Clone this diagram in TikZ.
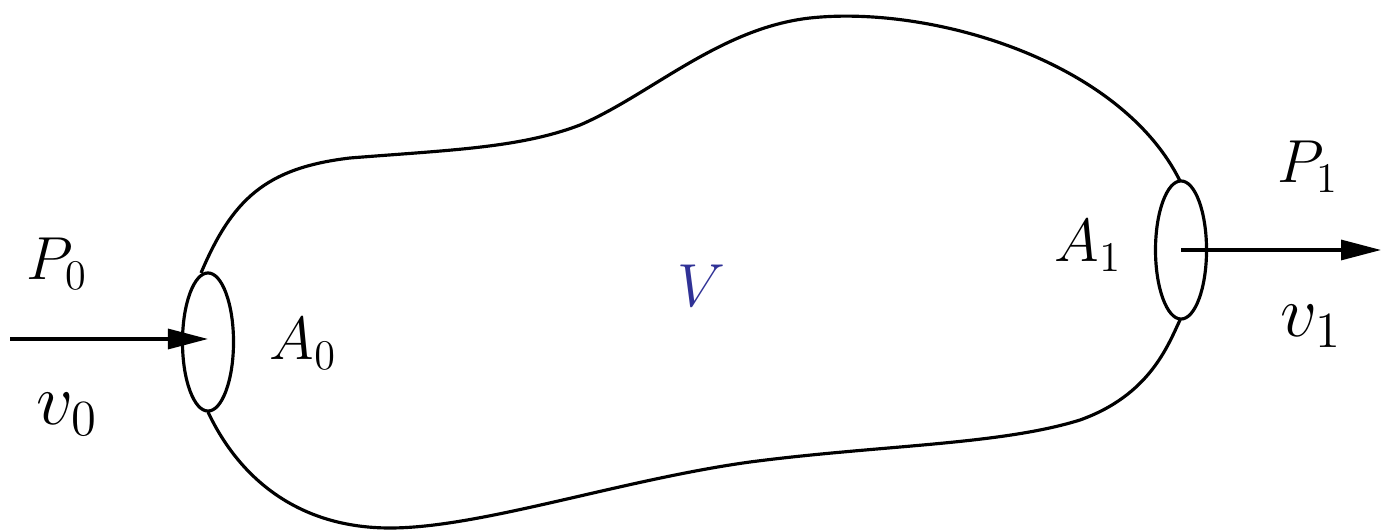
\documentclass[tikz,border=0pt]{standalone}
\usetikzlibrary{arrows.meta,shapes.geometric}
\newcommand\mainsz{\fontsize{17.5}{20}\selectfont}
\newcommand\vsz{\fontsize{21.5}{24}\selectfont}
\newcommand\lbl[2]{{\mainsz$#1_{#2}$}}
\newcommand\vlbl[1]{{\vsz$v_{#1}$}}
\definecolor{vblue}{RGB}{48,50,150}
\begin{document}
\begin{tikzpicture}[x=0.01cm,y=-0.01cm,
  outline/.style={line width=0.9pt},
  port/.style={draw,ellipse,line width=0.9pt,minimum width=0.51cm,minimum height=1.38cm,inner sep=0pt},
  flow/.style={line width=0.9pt,-{Triangle[length=4mm,width=2mm]}},
  txt/.style={anchor=base west,inner sep=0pt}]
\useasboundingbox (0,0) rectangle (1389,531);
% outline
\draw[outline] (201,273) .. controls (232,200) and (265,168) .. (350,158)
  .. controls (450,150) and (520,148) .. (580,125)
  .. controls (650,95) and (720,28) .. (810,18)
  .. controls (930,5) and (1120,60) .. (1180,181);
\draw[outline] (208,412) .. controls (240,480) and (300,528) .. (390,528)
  .. controls (480,528) and (620,480) .. (750,462)
  .. controls (880,445) and (1000,445) .. (1080,420)
  .. controls (1150,395) and (1168,345) .. (1180,320);
% ports
\node[port] (A0e) at (208,342) {};
\node[port] (A1e) at (1181,250) {};
% arrows
\coordinate (inStart) at (10,339);
\coordinate (outEnd) at (1381,250);
\draw[flow] (inStart) -- (A0e.center |- inStart);
\draw[flow] (A1e.center) -- (outEnd);
% labels
\node[txt] (P0) at (26,280) {\lbl{P}{0}};
\node[txt] (v0) at (36,425) {\vlbl{0}};
\node[txt] (A0) at (269,360) {\lbl{A}{0}};
\node[txt] (A1) at (1054,262) {\lbl{A}{1}};
\node[txt] (P1) at (1277,183) {\lbl{P}{1}};
\node[txt] (v1) at (1280,337) {\vlbl{1}};
\node[txt,text=vblue] (V) at (677,307) {\fontsize{19}{21}\selectfont$V$};
\end{tikzpicture}
\end{document}
